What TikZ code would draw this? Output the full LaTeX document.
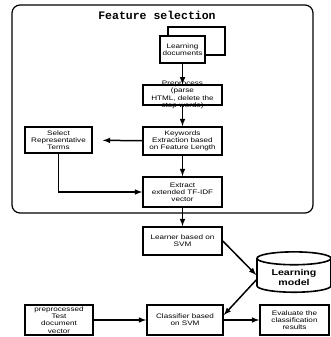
\documentclass[tikz,border=0pt]{standalone}
\usepackage{fontspec}
\setmainfont{Liberation Sans}
\newfontfamily\boxfont[FakeStretch=1.25]{Liberation Sans}
\newfontfamily\titlefont{Liberation Mono}
\usetikzlibrary{shapes.geometric}

\begin{document}
\begin{tikzpicture}[x=1pt,y=-1pt]
   \tikzstyle{every node}=[align=center, font=\boxfont\fontsize{6.5}{7.2}\selectfont]
   \tikzstyle{proc}=[draw, line width=1.6pt, fill=white, inner sep=0pt, minimum width=79pt, minimum height=28pt]
   \tikzstyle{flow}=[-latex, line width=1.5pt]

\useasboundingbox (0,0) rectangle (331,337);
\draw[line width=1.2pt, rounded corners=8pt] (12,5) rectangle (313,213);
\node[font=\titlefont\bfseries\fontsize{11.5}{12}\selectfont] (title) at (157,15) {Feature selection};

\node[proc, minimum width=57pt] (docsback) at (196.5,41) {};
\node[proc, minimum width=45pt, minimum height=27pt] (docs) at (182.5,49.5) {Learning\\documents};
\node[proc, minimum height=18pt, inner ysep=-4pt] (prep) at (182.5,95) {Preprocess\\(parse\\HTML, delete the\\stop words)};
\node[proc] (keyw) at (182.5,141) {Keywords\\Extraction based\\on Feature Length};
\node[proc, minimum width=67pt, minimum height=26pt] (select) at (58.5,140) {Select\\Representative\\Terms};
\node[proc, minimum height=30pt] (extract) at (182.5,192) {Extract\\extended TF-IDF\\vector};
\node[proc] (learner) at (182.5,241) {Learner based on\\SVM};
\node[draw, cylinder, shape border rotate=90, aspect=0.25, minimum width=74pt, minimum height=40pt, line width=1.6pt,
      font=\boxfont\bfseries\fontsize{8.5}{10}\selectfont] (model) at (294,277) {Learning\\model};
\node[proc, minimum width=68pt, minimum height=30pt] (testvec) at (59,320) {preprocessed\\Test\\document\\vector};
\node[proc, minimum width=76pt, minimum height=30pt] (classif) at (185,320) {Classifier based\\on SVM};
\node[proc, minimum width=69pt, minimum height=30pt] (evaluate) at (294.5,320) {Evaluate the\\classification\\results};

\draw[flow] (docs) -- (prep);
\draw[flow] (prep) -- (keyw);
\draw[flow, shorten >=10pt] (keyw) -- (select);
\draw[flow] (keyw) -- (extract);
\draw[flow] (select) |- (extract);
\draw[flow] (extract) -- (learner);
\draw[flow] (learner.east) -- ([yshift=2pt]model.west);
\draw[flow] ([yshift=-3pt]model.west) -- ([yshift=5pt]classif.east);
\draw[flow] (testvec) -- (classif);
\draw[flow] (classif) -- (evaluate);

\end{tikzpicture}
\end{document}
